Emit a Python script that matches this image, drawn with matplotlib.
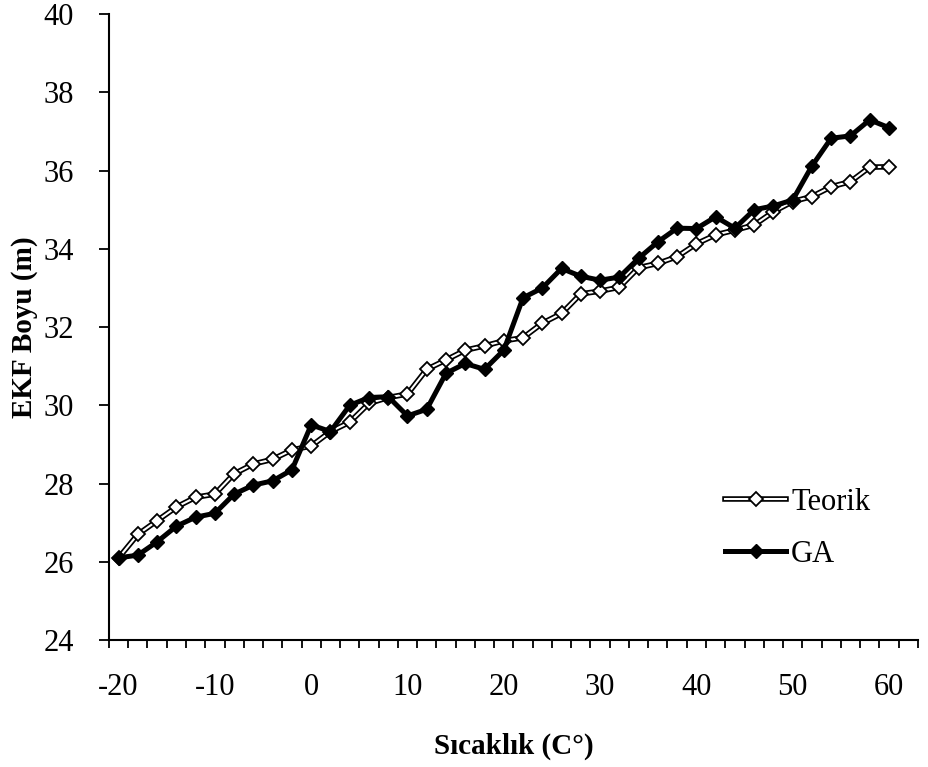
import matplotlib
matplotlib.use("Agg")
import matplotlib.pyplot as plt
from matplotlib.ticker import MultipleLocator, FixedLocator

plt.rcParams['font.family'] = ['Liberation Serif', 'DejaVu Serif']
plt.rcParams['axes.unicode_minus'] = False

sicaklik = list(range(-20, 61, 2))

teorik = [26.1, 26.7, 27.05, 27.4, 27.65, 27.73, 28.25, 28.5, 28.62, 28.86,
          28.96, 29.33, 29.57, 30.05, 30.2, 30.29, 30.92, 31.16, 31.41, 31.52,
          31.65, 31.73, 32.1, 32.35, 32.85, 32.92, 33.02, 33.52, 33.63, 33.8,
          34.13, 34.36, 34.48, 34.61, 34.95, 35.21, 35.34, 35.59, 35.72, 36.09,
          36.1]

ga = [26.1, 26.17, 26.51, 26.91, 27.14, 27.24, 27.73, 27.96, 28.07, 28.35,
      29.5, 29.33, 30.0, 30.2, 30.22, 29.73, 29.9, 30.82, 31.07, 30.92,
      31.41, 32.75, 33.0, 33.5, 33.3, 33.2, 33.28, 33.76, 34.18, 34.53,
      34.52, 34.82, 34.53, 35.0, 35.1, 35.25, 36.12, 36.83, 36.89, 37.3,
      37.1]

fig = plt.figure(figsize=(9.29, 7.67), dpi=100)
ax = fig.add_axes([0.1173, 0.1656, 0.8707, 0.8158])

# Teorik: double line (black outline, white core) with white diamonds
t_out, = ax.plot(sicaklik, teorik, color='black', lw=4.0, zorder=2)
t_in, = ax.plot(sicaklik, teorik, color='white', lw=1.5, marker='D', ms=6.8,
                mfc='white', mec='black', mew=1.3, zorder=3)

# GA: thick black line with black diamonds
g_line, = ax.plot(sicaklik, ga, color='black', lw=3.6, marker='D', ms=6.8,
                  mfc='black', mec='black', zorder=4)

ax.set_xlim(-21, 63)
ax.set_ylim(24, 40)

ax.xaxis.set_major_locator(FixedLocator([-20, -10, 0, 10, 20, 30, 40, 50, 60]))
ax.xaxis.set_minor_locator(MultipleLocator(2, offset=1))
ax.yaxis.set_major_locator(MultipleLocator(2))

ax.tick_params(axis='x', which='major', length=0, pad=24, labelsize=22)
ax.tick_params(axis='x', which='minor', length=6, width=1.3, direction='out')
ax.tick_params(axis='y', length=7, width=1.3, direction='out', pad=18, labelsize=22)

for side in ['top', 'right']:
    ax.spines[side].set_visible(False)
for side in ['left', 'bottom']:
    ax.spines[side].set_linewidth(1.5)

ax.set_xlabel('Sıcaklık (C°)', fontsize=21, fontweight='bold', labelpad=22)
ax.set_ylabel('EKF Boyu (m)', fontsize=21, fontweight='bold', labelpad=4)

ax.legend([(t_out, t_in), g_line], ['Teorik', 'GA'], frameon=False,
          fontsize=22, handlelength=2.0, handletextpad=0.15, labelspacing=0.75,
          loc='lower right', bbox_to_anchor=(0.975, 0.07))

fig.savefig('out.png', dpi=100)
